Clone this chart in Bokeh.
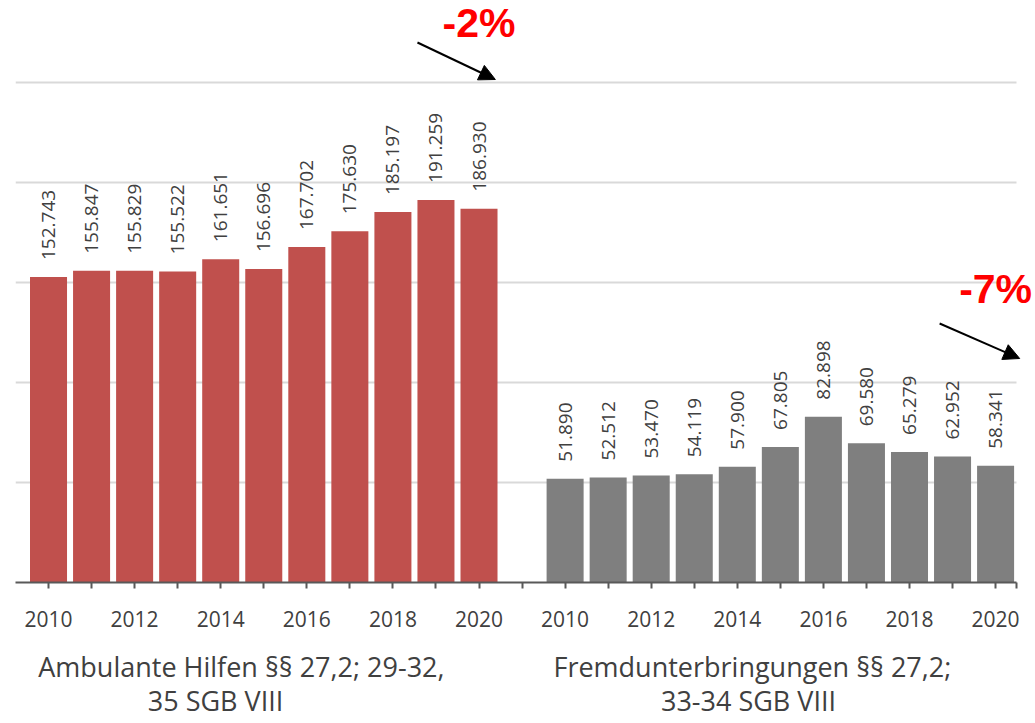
import numpy as np
from bokeh.plotting import figure
from bokeh.models import (ColumnDataSource, FixedTicker, Label, Arrow, NormalHead, Range1d,
                          LinearAxis)
from bokeh.embed import file_html
from bokeh.resources import INLINE
from bokeh.core.properties import value

# ---------------- data ----------------
years = list(range(2010, 2021))
ambulant = [152743, 155847, 155829, 155522, 161651, 156696, 167702, 175630, 185197, 191259, 186930]
fremd = [51890, 52512, 53470, 54119, 57900, 67805, 82898, 69580, 65279, 62952, 58341]
series = [ambulant, fremd]
group_labels = [["Ambulante Hilfen §§ 27,2; 29-32,", "35 SGB VIII"],
                ["Fremdunterbringungen §§ 27,2;", "33-34 SGB VIII"]]
changes = ["-2%", "-7%"]
colors = ["#C0504D", "#7F7F7F"]
grid_values = [0, 50000, 100000, 150000, 200000, 250000]

# ---------------- layout helpers ----------------
n = len(years)
slot_step = n + 1  # one empty slot between groups

xs, tops, cols, labs = [], [], [], []
for g, vals in enumerate(series):
    for i, v in enumerate(vals):
        xs.append(g * slot_step + i)
        tops.append(v)
        cols.append(colors[g])
        labs.append(f"{v:,}".replace(",", "."))

src = ColumnDataSource(dict(x=xs, top=tops, color=cols, label=labs))

axis_start, axis_end = -0.767, 22.486
p = figure(width=1035, height=723,
           x_range=Range1d(axis_start, 22.927), y_range=Range1d(0, 291000),
           output_backend="svg", toolbar_location=None,
           min_border_left=15, min_border_right=0, min_border_top=0, min_border_bottom=141)
p.outline_line_color = None
p.background_fill_color = "white"
p.border_fill_color = "white"

p.yaxis.visible = False
p.xgrid.visible = False
grid = p.ygrid[0]
grid.ticker = FixedTicker(ticks=grid_values)
grid.grid_line_color = "#D9D9D9"
grid.grid_line_width = 2
if "cross_bounds" in grid.properties():
    grid.cross_bounds = (axis_start, axis_end)

p.vbar(x="x", top="top", width=0.86, source=src, fill_color="color", line_color=None)

p.text(x="x", y="top", text="label", source=src, angle=np.pi / 2,
       text_align="left", text_baseline="middle", y_offset=-17,
       text_font=value("Open Sans"), text_font_size="19px", text_color="#404040")

# x axis
ticks = list(range(2 * n + 1)) + [axis_end]
overrides = {t: "" for t in ticks}
for g in range(2):
    for i, y in enumerate(years):
        if i % 2 == 0:
            overrides[g * slot_step + i] = str(y)
ax = p.xaxis[0]
ax.ticker = FixedTicker(ticks=ticks)
ax.major_label_overrides = overrides
ax.bounds = (axis_start, axis_end)
ax.minor_tick_line_color = None
ax.axis_line_color = "#595959"
ax.axis_line_width = 2
ax.major_tick_line_color = "#595959"
ax.major_tick_line_width = 2
ax.major_tick_out = 6
ax.major_tick_in = 0
ax.major_label_standoff = 22
ax.major_label_text_font = "Open Sans"
ax.major_label_text_font_size = "21px"
ax.major_label_text_color = "#404040"

# group labels: two extra axes below (one per text line)
line_dx = [[-0.52, -1.12], [-0.65, -0.74]]
standoffs = [18, -6]
for k in range(2):
    pos = [g * slot_step + (n - 1) / 2 + line_dx[g][k] for g in range(2)]
    cax = LinearAxis(ticker=FixedTicker(ticks=pos),
                     major_label_overrides={pos[g]: group_labels[g][k] for g in range(2)},
                     axis_line_color=None, major_tick_line_color=None, minor_tick_line_color=None,
                     major_tick_out=0, major_tick_in=0, minor_tick_out=0, minor_tick_in=0,
                     major_label_standoff=standoffs[k],
                     major_label_text_font="Open Sans", major_label_text_font_size="27px",
                     major_label_text_color="#404040")
    p.add_layout(cax, "below")

# change annotations
change_pos = [(10.0, 280000), (22.0, 147000)]
arrows = [((8.57, 270000), (10.38, 251500)), ((20.70, 129500), (22.56, 112000))]
for g in range(2):
    cx, cy = change_pos[g]
    p.add_layout(Label(x=cx, y=cy, text=changes[g], text_align="center", text_baseline="alphabetic",
                       text_font="Liberation Sans", text_font_style="bold", text_font_size="41px",
                       text_color="#FF0000"))
    (x0, y0), (x1, y1) = arrows[g]
    p.add_layout(Arrow(x_start=x0, y_start=y0, x_end=x1, y_end=y1, line_width=2, line_color="black",
                       end=NormalHead(size=16, fill_color="black", line_color="black")))

open("out.html", "w").write(file_html(p, INLINE))
